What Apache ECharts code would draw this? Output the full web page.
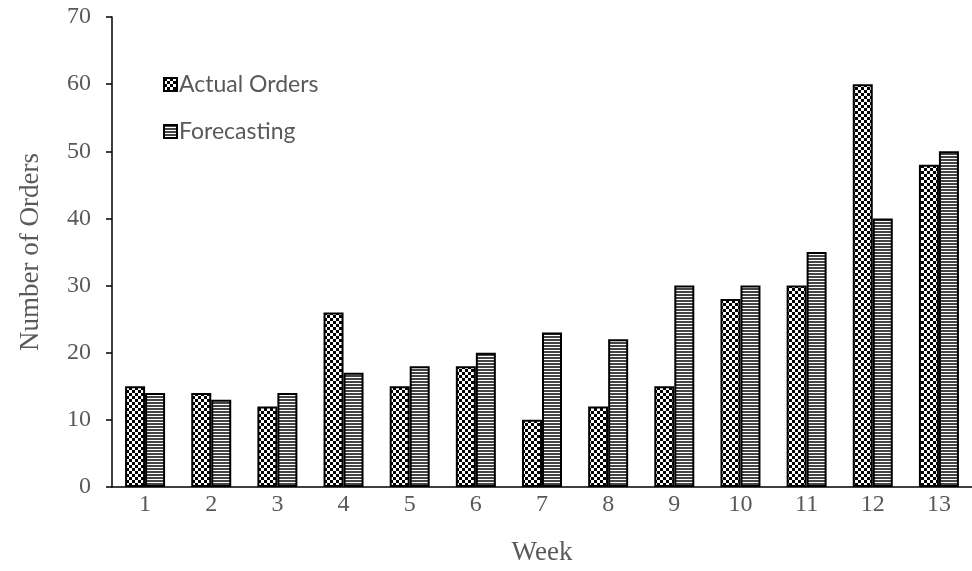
<!DOCTYPE html>
<html><head><meta charset="utf-8">
<script src="https://cdn.jsdelivr.net/npm/echarts@6/dist/echarts.min.js"></script>
<style>html,body{margin:0;padding:0;background:#fff}#c{width:972px;height:571px}</style>
</head><body><div id="c"></div>
<script>
const weeks = ['1','2','3','4','5','6','7','8','9','10','11','12','13'];
const actualOrders = [15,14,12,26,15,18,10,12,15,28,30,60,48];
const forecasting = [14,13,14,17,18,20,23,22,30,30,35,40,50];
const yTicks = [0,10,20,30,40,50,60,70];

function checker(){
  const c = document.createElement('canvas'); const s = 3;
  c.width = s*2; c.height = s*2;
  const x = c.getContext('2d');
  x.fillStyle = '#fff'; x.fillRect(0,0,s*2,s*2);
  x.fillStyle = '#000'; x.fillRect(0,0,s,s); x.fillRect(s,s,s,s);
  return c;
}
function stripes(){
  const c = document.createElement('canvas');
  c.width = 4; c.height = 3;
  const x = c.getContext('2d');
  x.fillStyle = '#fff'; x.fillRect(0,0,4,3);
  x.fillStyle = '#444'; x.fillRect(0,0,4,2);
  return c;
}
const chart = echarts.init(document.getElementById('c'));
const tickText = {color:'#595959', fontFamily:'Liberation Serif', fontSize:24};
const nameText = {color:'#595959', fontFamily:'Liberation Serif', fontSize:27};
chart.setOption({
  animation:false,
  grid:{left:112, top:17, bottom:84, width:866, containLabel:false},
  legend:{
    orient:'vertical', left:163, top:73, padding:0, itemGap:24, itemWidth:13, itemHeight:13,
    icon:'rect',
    textStyle:{color:'#595959', fontFamily:'Lato', fontSize:23, padding:[0,0,0,-3]},
    data:['Actual Orders','Forecasting']
  },
  xAxis:{
    type:'category', data:weeks,
    name:'Week', nameLocation:'middle', nameGap:52,
    nameTextStyle:nameText,
    axisLine:{lineStyle:{color:'#000', width:1.5}},
    axisTick:{show:false},
    axisLabel:Object.assign({margin:6}, tickText)
  },
  yAxis:{
    type:'value', min:0, max:70, interval:10,
    name:'Number of Orders', nameLocation:'middle', nameGap:68,
    nameTextStyle:nameText,
    axisLine:{show:true, lineStyle:{color:'#000', width:1.5}},
    axisTick:{show:true, length:6, lineStyle:{color:'#000', width:1.5}},
    splitLine:{show:false},
    axisLabel:Object.assign({margin:21, formatter:v=>yTicks.includes(v)?String(v):''}, tickText)
  },
  series:[
    {name:'Actual Orders', type:'bar', data:actualOrders, barWidth:20, barGap:'0%',
     itemStyle:{color:{image:checker(), repeat:'repeat'}, borderColor:'#000', borderWidth:2}},
    {name:'Forecasting', type:'bar', data:forecasting, barWidth:20,
     itemStyle:{color:{image:stripes(), repeat:'repeat'}, borderColor:'#000', borderWidth:2}}
  ]
});
</script></body></html>
